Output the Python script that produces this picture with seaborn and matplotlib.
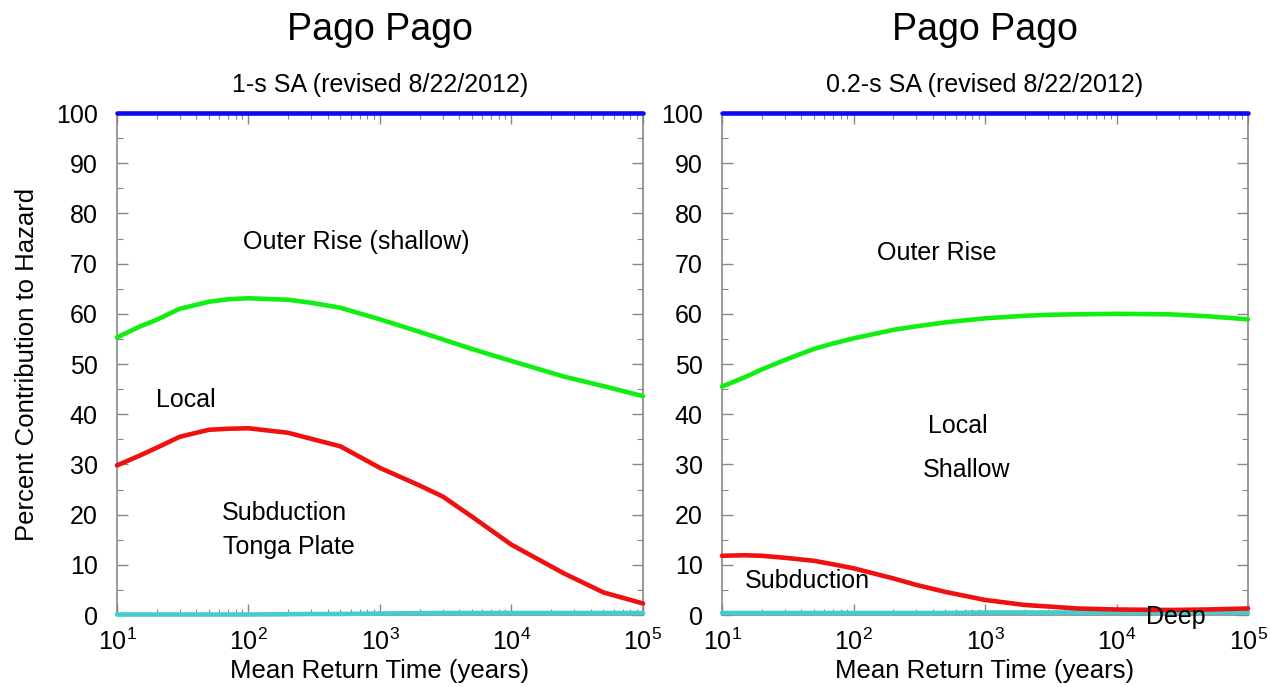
import numpy as np
import pandas as pd
import matplotlib
matplotlib.use('Agg')
import matplotlib.pyplot as plt
import seaborn as sns
from matplotlib.ticker import LogLocator, MultipleLocator, NullFormatter

# return periods (years)
returns = [10, 15, 20, 30, 50, 70, 100, 200, 300, 500, 1000, 2000, 3000,
           5000, 10000, 25000, 50000, 100000]

# 1-s SA
total_1s = [100] * len(returns)
outer_1s = [55.3, 57.5, 58.8, 61.0, 62.4, 62.9, 63.1, 62.8, 62.2, 61.2, 58.9,
            56.4, 54.9, 53.0, 50.6, 47.5, 45.6, 43.6]
subd_1s = [29.8, 31.8, 33.3, 35.5, 36.9, 37.1, 37.2, 36.3, 35.1, 33.6, 29.3,
           25.8, 23.6, 19.6, 14.0, 8.3, 4.5, 2.3]
deep_1s = [0.1, 0.1, 0.1, 0.1, 0.1, 0.1, 0.1, 0.15, 0.2, 0.2, 0.3, 0.35, 0.4,
           0.4, 0.4, 0.4, 0.4, 0.4]

# 0.2-s SA
total_02s = [100] * len(returns)
outer_02s = [45.5, 47.4, 48.9, 50.8, 53.0, 54.1, 55.1, 56.8, 57.5, 58.3, 59.1,
             59.6, 59.8, 59.9, 60.0, 59.9, 59.5, 58.9]
subd_02s = [11.8, 11.9, 11.8, 11.4, 10.8, 10.1, 9.3, 7.3, 6.0, 4.6, 3.0, 2.0,
            1.7, 1.3, 1.1, 1.0, 1.1, 1.3]
deep_02s = [0.4, 0.4, 0.4, 0.4, 0.4, 0.4, 0.4, 0.4, 0.4, 0.4, 0.5, 0.5, 0.5,
            0.5, 0.5, 0.5, 0.5, 0.5]

colors = {'total': '#0a0af5', 'outer': '#11ee11', 'subd': '#f01010', 'deep': '#45cccc'}

sns.set_style('ticks')
plt.rcParams['font.family'] = ['Liberation Sans', 'DejaVu Sans']
plt.rcParams['mathtext.fontset'] = 'custom'
plt.rcParams['mathtext.rm'] = 'Liberation Sans'
plt.rcParams['mathtext.it'] = 'Liberation Sans:italic'
plt.rcParams['text.color'] = 'black'
plt.rcParams['axes.labelcolor'] = 'black'

fig = plt.figure(figsize=(12.7, 6.87), dpi=100)
ax1 = fig.add_axes([0.0921, 0.1048, 0.4142, 0.7307])
ax2 = fig.add_axes([0.5685, 0.1048, 0.4142, 0.7307])


def draw_panel(ax, total, outer, subd, deep, subtitle):
    ax.set_xscale('log')
    df = pd.DataFrame({'x': returns, 'total': total, 'outer': outer,
                       'subd': subd, 'deep': deep})
    for key in ['deep', 'subd', 'outer', 'total']:
        sns.lineplot(data=df, x='x', y=key, ax=ax, color=colors[key],
                     lw=3.3, clip_on=False, zorder=5)
    ax.set_xlim(10, 1e5)
    ax.set_ylim(0, 100)
    ax.yaxis.set_major_locator(MultipleLocator(10))
    ax.yaxis.set_minor_locator(MultipleLocator(5))
    ax.xaxis.set_major_locator(LogLocator(base=10, numticks=10))
    ax.xaxis.set_minor_locator(LogLocator(base=10, subs=np.arange(2, 10), numticks=10))
    ax.xaxis.set_minor_formatter(NullFormatter())
    ax.tick_params(which='both', direction='in', top=True, right=True,
                   color='#888888', labelcolor='black', labelsize=18)
    ax.tick_params(which='major', length=8, width=1)
    ax.tick_params(which='minor', length=4, width=0.8)
    ax.tick_params(axis='y', which='major', pad=14)
    ax.tick_params(axis='x', which='major', pad=10)
    for s in ax.spines.values():
        s.set_color('#888888')
        s.set_linewidth(1.2)
    ax.set_xlabel('Mean Return Time (years)', fontsize=18.5, labelpad=3)
    ax.set_ylabel('')
    # titles centred over each panel
    pos = ax.get_position()
    cx = pos.x0 + pos.width / 2
    fig.text(cx, 0.956, 'Pago Pago', ha='center', va='center', fontsize=27)
    fig.text(cx, 0.876, subtitle, ha='center', va='center', fontsize=18)


draw_panel(ax1, total_1s, outer_1s, subd_1s, deep_1s, '1-s SA (revised 8/22/2012)')
draw_panel(ax2, total_02s, outer_02s, subd_02s, deep_02s, '0.2-s SA (revised 8/22/2012)')
ax1.set_ylabel('Percent Contribution to Hazard', fontsize=18.5, labelpad=12)

lab = dict(ha='center', va='center', fontsize=18)
ax1.text(10 ** 2.82, 74.3, 'Outer Rise (shallow)', **lab)
ax1.text(10 ** 1.52, 42.8, 'Local', **lab)
ax1.text(10 ** 2.27, 20.3, 'Subduction', **lab)
ax1.text(10 ** 2.31, 13.5, 'Tonga Plate', **lab)

ax2.text(10 ** 2.63, 72.1, 'Outer Rise', **lab)
ax2.text(10 ** 2.79, 37.6, 'Local', **lab)
ax2.text(10 ** 2.86, 28.9, 'Shallow', **lab)
ax2.text(10 ** 1.65, 6.8, 'Subduction', **lab)
ax2.text(10 ** 4.45, -0.4, 'Deep', zorder=10, **lab)

fig.savefig('out.png', dpi=100)
